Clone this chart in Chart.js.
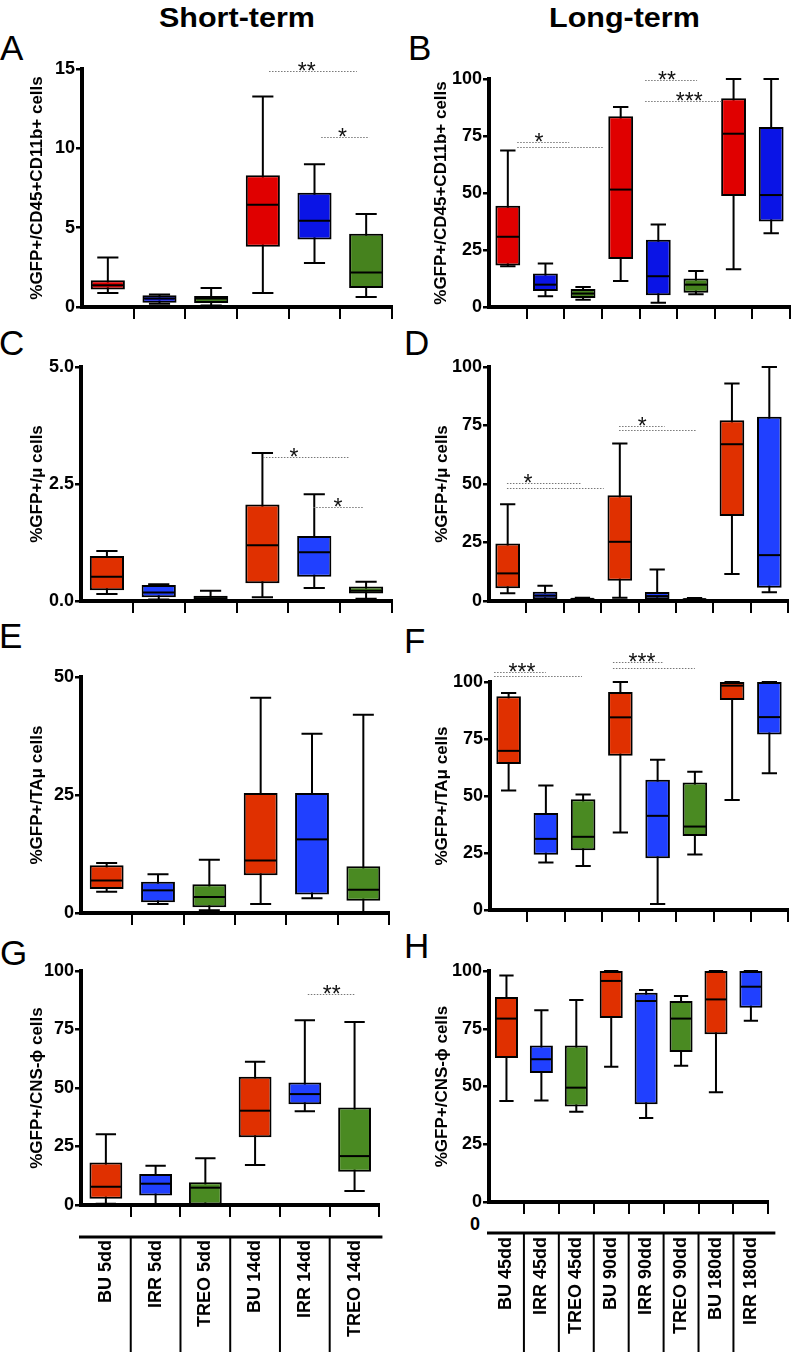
<!DOCTYPE html>
<html>
<head>
<meta charset="utf-8">
<script src="https://cdn.jsdelivr.net/npm/chart.js@4.4.1/dist/chart.umd.min.js"></script>
<style>
  body { margin: 0; background: #fff; width: 796px; height: 1355px; position: relative; overflow: hidden;
         font-family: "Liberation Sans", Arial, sans-serif; }
  canvas { position: absolute; }
  .lt { position: absolute; font-size: 35px; line-height: 1; color: #000; }
  .hd { position: absolute; font-size: 27px; line-height: 1; font-weight: bold; transform-origin: left top; transform: scaleX(1.13); }
  .zero { position: absolute; font-size: 18px; font-weight: bold; line-height: 1; }
</style>
</head>
<body>
<div class="hd" style="left:159px;top:5px">Short-term</div>
<div class="hd" style="left:549px;top:5px">Long-term</div>
<div class="lt" style="left:0px;top:30px">A</div>
<div class="lt" style="left:408px;top:30px">B</div>
<div class="lt" style="left:-1px;top:325px">C</div>
<div class="lt" style="left:404px;top:325px">D</div>
<div class="lt" style="left:-1px;top:618px">E</div>
<div class="lt" style="left:404px;top:623px">F</div>
<div class="lt" style="left:0px;top:935px">G</div>
<div class="lt" style="left:404px;top:928px">H</div>
<div class="zero" style="left:470px;top:1215px">0</div>

<canvas id="chartA"></canvas>
<canvas id="chartB"></canvas>
<canvas id="chartC"></canvas>
<canvas id="chartD"></canvas>
<canvas id="chartE"></canvas>
<canvas id="chartF"></canvas>
<canvas id="chartG"></canvas>
<canvas id="chartH"></canvas>

<script>
// categories
const shortLabels = ['BU 5dd', 'IRR 5dd', 'TREO 5dd', 'BU 14dd', 'IRR 14dd', 'TREO 14dd'];
const longLabels = ['BU 45dd', 'IRR 45dd', 'TREO 45dd', 'BU 90dd', 'IRR 90dd', 'TREO 90dd', 'BU 180dd', 'IRR 180dd'];

// box values per category: [min, q1, median, q3, max]
const boxesA = [[0.88, 1.10, 1.37, 1.69, 3.12], [0.21, 0.27, 0.53, 0.74, 0.78], [0.10, 0.25, 0.53, 0.70, 1.20],
                [0.88, 3.79, 6.45, 8.30, 13.27], [2.78, 4.26, 5.43, 7.20, 9.00], [0.63, 1.20, 2.17, 4.61, 5.86]];
const boxesB = [[17.9, 18.2, 30.8, 44.4, 68.6], [4.7, 7.0, 9.8, 14.7, 19.1], [3.2, 4.0, 5.9, 7.9, 8.8],
                [11.4, 21.0, 51.5, 83.7, 87.7], [1.9, 5.1, 13.5, 29.5, 36.2], [5.6, 6.3, 9.8, 12.5, 15.8],
                [16.6, 48.7, 76.0, 91.6, 100], [32.3, 37.5, 49.1, 79.0, 100]];
const boxesC = [[0.15, 0.23, 0.52, 0.96, 1.07], [0.03, 0.08, 0.18, 0.34, 0.36], [0.0, 0.02, 0.06, 0.11, 0.22],
                [0.08, 0.38, 1.19, 2.06, 3.16], [0.28, 0.52, 1.04, 1.39, 2.28], [0.05, 0.16, 0.22, 0.31, 0.41]];
const boxesD = [[3.3, 5.4, 11.8, 24.6, 41.3], [0.4, 0.7, 2.3, 4.0, 6.5], [0.3, 0.6, 0.9, 1.2, 1.4],
                [1.4, 8.7, 25.3, 45.2, 67.3], [0.4, 0.7, 2.1, 3.8, 13.5], [0.3, 0.5, 0.8, 1.1, 1.3],
                [11.5, 36.3, 67.0, 77.2, 92.9], [3.7, 5.7, 19.6, 78.7, 100]];
const boxesE = [[4.5, 5.1, 6.9, 10.1, 10.6], [1.9, 2.3, 4.8, 6.6, 8.2], [0.6, 1.2, 3.4, 6.1, 11.3],
                [1.9, 8.0, 11.1, 25.4, 45.6], [3.1, 3.9, 15.6, 25.4, 38.0], [0.0, 2.6, 4.9, 9.9, 42.0]];
const boxesF = [[52.4, 64.0, 69.8, 93.7, 95.2], [20.8, 24.2, 31.2, 42.5, 54.6], [19.3, 26.2, 32.1, 48.6, 50.7],
                [34.0, 67.6, 84.5, 95.6, 100], [2.6, 22.7, 41.3, 57.1, 65.9], [24.3, 32.5, 36.6, 55.9, 60.6],
                [48.3, 92.1, 98.4, 100, 100], [60.0, 77.0, 84.6, 100, 100]];
const boxesG = [[0.5, 2.7, 7.8, 18.2, 30.2], [0.3, 4.1, 9.1, 13.2, 16.8], [0.0, 0.2, 7.4, 9.7, 20.0],
                [17.1, 28.9, 40.3, 54.8, 61.2], [40.1, 43.1, 47.4, 52.3, 79.0], [6.0, 14.2, 20.9, 41.7, 78.2]];
const boxesH = [[43.7, 62.3, 79.4, 88.7, 98.0], [43.9, 55.8, 61.8, 67.8, 83.0], [39.1, 41.3, 49.5, 67.7, 87.4],
                [58.6, 79.7, 95.7, 100, 100], [36.4, 42.3, 87.0, 90.6, 91.8], [59.0, 64.9, 79.4, 87.0, 89.2],
                [47.5, 72.6, 87.7, 100, 100], [78.5, 84.1, 93.2, 100, 100]];

// y tick labels
const ticksA = [0, 5, 10, 15];
const ticksC = [0, 2.5, 5];
const ticksE = [0, 25, 50];
const ticks100 = [0, 25, 50, 75, 100];

// significance bars: [from category, to category, y]  and stars: [category, y, text]
const linesA = [[3.12, 4.82, 14.85], [4.13, 5.06, 10.7]];
const starsA = [[3.85, 14.85, '**'], [4.54, 10.7, '*']];
const linesB = [[0.25, 1.63, 72.3], [0.25, 2.53, 70.1], [3.65, 5.03, 99.4], [3.65, 5.7, 90.2]];
const starsB = [[0.83, 72.3, '*'], [4.23, 99.4, '**'], [4.82, 90.2, '***']];
const linesC = [[3.01, 4.67, 3.08], [3.98, 4.94, 2.0]];
const starsC = [[3.61, 3.08, '*'], [4.46, 2.0, '*']];
const linesD = [[-0.02, 1.97, 50.5], [-0.02, 2.57, 48.4], [2.98, 4.2, 75], [2.98, 5.06, 73]];
const starsD = [[0.54, 50.5, '*'], [3.6, 75, '*']];
const linesF = [[-0.39, 1.0, 104.5], [-0.39, 1.97, 102.6], [2.8, 4.17, 108.6], [2.8, 5.0, 106.1]];
const starsF = [[0.36, 104.5, '***'], [3.58, 108.6, '***']];
const linesG = [[4.06, 5.0, 90.3]];
const starsG = [[4.54, 90.3, '**']];

const paletteAB = { BU: '#e00000', IRR: '#0a14e6', TREO: '#46821e' };
const paletteCH = { BU: '#e03000', IRR: '#2040ff', TREO: '#4a8a22' };
const FONT = '"Liberation Sans", Arial, Helvetica, sans-serif';

// whiskers, caps and medians from the box values
const boxPlugin = {
  id: 'boxes',
  beforeDatasetsDraw(chart) {
    const { ctx, scales: { x, y } } = chart;
    const stats = chart.data.datasets[0].stats;
    const meta = chart.getDatasetMeta(0);
    ctx.save();
    ctx.strokeStyle = '#000';
    ctx.lineWidth = 2;
    stats.forEach((b, i) => {
      const px = x.getPixelForValue(i);
      const cap = meta.data[i].width * 0.31;
      const yMin = y.getPixelForValue(b[0]);
      const yMax = y.getPixelForValue(b[4]);
      ctx.beginPath();
      ctx.moveTo(px, yMin); ctx.lineTo(px, yMax);
      ctx.moveTo(px - cap, yMin); ctx.lineTo(px + cap, yMin);
      ctx.moveTo(px - cap, yMax); ctx.lineTo(px + cap, yMax);
      ctx.stroke();
    });
    ctx.restore();
  },
  afterDatasetsDraw(chart) {
    const { ctx, scales: { x, y } } = chart;
    const stats = chart.data.datasets[0].stats;
    const meta = chart.getDatasetMeta(0);
    ctx.save();
    ctx.strokeStyle = '#000';
    ctx.lineWidth = 2;
    stats.forEach((b, i) => {
      const px = x.getPixelForValue(i);
      const half = meta.data[i].width / 2 - 1;
      const py = y.getPixelForValue(b[2]);
      ctx.beginPath();
      ctx.moveTo(px - half, py); ctx.lineTo(px + half, py);
      ctx.stroke();
    });
    ctx.restore();
  }
};

function sigPlugin(lines, stars) {
  return {
    id: 'sig',
    afterDraw(chart) {
      const { ctx, scales: { x, y } } = chart;
      const x0 = x.getPixelForValue(0);
      const step = x.getPixelForValue(1) - x0;
      const px = v => x0 + v * step;
      ctx.save();
      ctx.strokeStyle = '#777';
      ctx.lineWidth = 1;
      ctx.setLineDash([1.5, 1.5]);
      lines.forEach(l => {
        const py = Math.round(y.getPixelForValue(l[2])) + 0.5;
        ctx.beginPath();
        ctx.moveTo(px(l[0]), py);
        ctx.lineTo(px(l[1]), py);
        ctx.stroke();
      });
      ctx.setLineDash([]);
      ctx.fillStyle = '#111';
      ctx.font = '23px ' + FONT;
      ctx.textAlign = 'center';
      ctx.textBaseline = 'alphabetic';
      stars.forEach(s => ctx.fillText(s[2], px(s[0]), y.getPixelForValue(s[1]) + 8));
      ctx.restore();
    }
  };
}

// label table under the last row
function tablePlugin(offset, extra) {
  return {
    id: 'table',
    afterDraw(chart) {
      const { ctx, chartArea, scales: { x } } = chart;
      const y0 = chartArea.bottom + offset;
      ctx.save();
      ctx.strokeStyle = '#000';
      ctx.lineWidth = 3;
      ctx.beginPath();
      ctx.moveTo(chartArea.left - 2, y0);
      ctx.lineTo(chartArea.right + extra, y0);
      ctx.stroke();
      ctx.lineWidth = 2;
      for (let i = 1; i < chart.data.labels.length; i++) {
        const bx = (x.getPixelForValue(i - 1) + x.getPixelForValue(i)) / 2;
        ctx.beginPath();
        ctx.moveTo(bx, y0);
        ctx.lineTo(bx, chart.height - 3);
        ctx.stroke();
      }
      ctx.restore();
    }
  };
}

function drawPanel(id, g, labels, boxes, yTicks, palette, yTitle, fmt, lines, stars, table) {
  const cv = document.getElementById(id);
  cv.width = g.w; cv.height = g.h;
  cv.style.left = g.x + 'px'; cv.style.top = g.y + 'px';
  const n = labels.length;
  const colors = labels.map(l => palette[l.split(' ')[0]]);
  const plugins = [boxPlugin, sigPlugin(lines, stars)];
  if (table) plugins.push(tablePlugin(table.offset, table.extra));

  new Chart(cv, {
    type: 'bar',
    data: {
      labels: labels,
      datasets: [{
        data: boxes.map(b => [b[1], b[3]]),
        stats: boxes,
        backgroundColor: colors,
        borderColor: '#000',
        borderWidth: 2,
        borderSkipped: false,
        barPercentage: 0.66,
        categoryPercentage: 1,
        clip: false
      }]
    },
    options: {
      responsive: false,
      animation: false,
      devicePixelRatio: 1,
      layout: { padding: { left: 0, top: g.at - g.y, right: g.x + g.w - g.ar, bottom: 0 } },
      plugins: { legend: { display: false }, tooltip: { enabled: false } },
      scales: {
        x: {
          offset: true,
          grid: {
            offset: true, drawOnChartArea: false, tickLength: 12, lineWidth: 2,
            color: c => (c.index === 0 || c.index >= n) ? 'rgba(0,0,0,0)' : '#000'
          },
          border: { color: '#000', width: 4 },
          ticks: {
            display: !!table, autoSkip: false, minRotation: 90, maxRotation: 90,
            padding: table ? table.pad : 0, color: '#000',
            font: { family: FONT, size: 18, weight: 'bold' }
          },
          afterFit: s => { s.height = g.y + g.h - g.ab; }
        },
        y: {
          min: 0,
          max: yTicks[yTicks.length - 1],
          afterBuildTicks: s => { s.ticks = yTicks.map(v => ({ value: v })); },
          grid: { drawOnChartArea: false, tickLength: 6, lineWidth: 2.5, color: '#000' },
          border: { color: '#000', width: 4 },
          ticks: { color: '#000', padding: 1, font: { family: FONT, size: 18, weight: 'bold' }, callback: v => fmt(v) },
          title: {
            display: true, text: yTitle, color: '#000',
            font: { family: FONT, size: 17, weight: 'bold' },
            padding: { top: g.tp, bottom: 0 }
          },
          afterFit: s => { s.width = g.ax - g.x; }
        }
      }
    },
    plugins: plugins
  });
}

const plain = v => String(v);
const oneDec = v => v.toFixed(1);

drawPanel('chartA', { x: 0, y: 40, w: 400, h: 290, ax: 82, ar: 392, at: 69, ab: 307, tp: 27 },
  shortLabels, boxesA, ticksA, paletteAB, '%GFP+/CD45+CD11b+ cells', plain, linesA, starsA, null);
drawPanel('chartB', { x: 400, y: 40, w: 396, h: 290, ax: 489, ar: 790, at: 79, ab: 307, tp: 31 },
  longLabels, boxesB, ticks100, paletteAB, '%GFP+/CD45+CD11b+ cells', plain, linesB, starsB, null);
drawPanel('chartC', { x: 0, y: 335, w: 400, h: 290, ax: 81, ar: 392, at: 367, ab: 601, tp: 27 },
  shortLabels, boxesC, ticksC, paletteCH, '%GFP+/μ cells', oneDec, linesC, starsC, null);
drawPanel('chartD', { x: 400, y: 335, w: 396, h: 290, ax: 489, ar: 788, at: 367, ab: 601, tp: 32 },
  longLabels, boxesD, ticks100, paletteCH, '%GFP+/μ cells', plain, linesD, starsD, null);
drawPanel('chartE', { x: 0, y: 630, w: 400, h: 300, ax: 81, ar: 389, at: 677, ab: 913, tp: 27 },
  shortLabels, boxesE, ticksE, paletteCH, '%GFP+/TAμ cells', plain, [], [], null);
drawPanel('chartF', { x: 400, y: 630, w: 396, h: 300, ax: 490, ar: 788, at: 682, ab: 910, tp: 32 },
  longLabels, boxesF, ticks100, paletteCH, '%GFP+/TAμ cells', plain, linesF, starsF, null);
drawPanel('chartG', { x: 0, y: 935, w: 400, h: 420, ax: 81, ar: 390, at: 971, ab: 1205, tp: 27 },
  shortLabels, boxesG, ticks100, paletteCH, '%GFP+/CNS-ϕ cells', plain, linesG, starsG, { offset: 32, extra: 3, pad: 23 });
drawPanel('chartH', { x: 400, y: 935, w: 396, h: 420, ax: 489, ar: 788, at: 971, ab: 1202, tp: 32 },
  longLabels, boxesH, ticks100, paletteCH, '%GFP+/CNS-ϕ cells', plain, [], [], { offset: 31, extra: 7, pad: 23 });
</script>
</body>
</html>
